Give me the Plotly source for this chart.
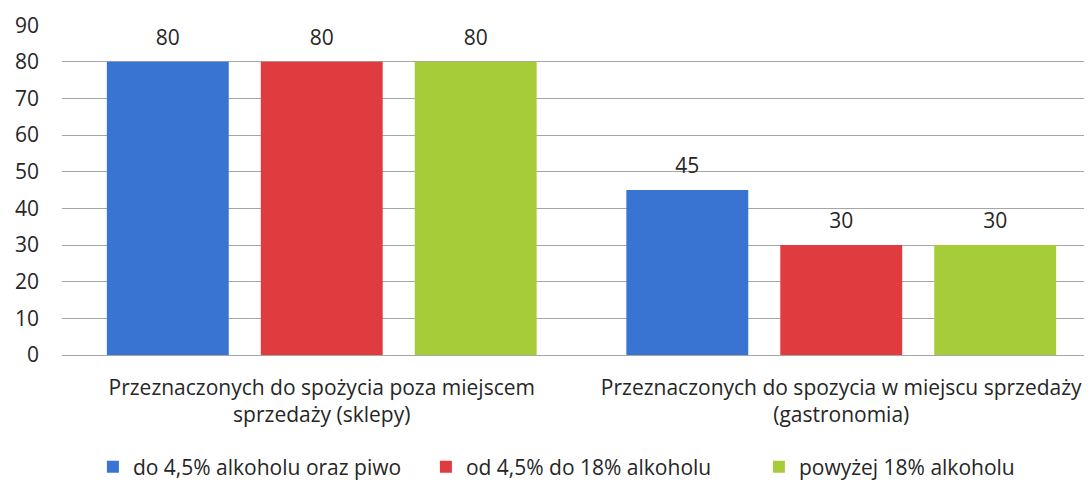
import plotly.graph_objects as go

categories = ["Przeznaczonych do spożycia poza miejscem<br>sprzedaży (sklepy)",
              "Przeznaczonych do spozycia w miejscu sprzedaży<br>(gastronomia)"]
series_names = ["do 4,5% alkoholu oraz piwo", "od 4,5% do 18% alkoholu", "powyżej 18% alkoholu"]
series_values = [[80, 45], [80, 30], [80, 30]]
colors = ["#3a74d2", "#e03c3f", "#a6cd39"]
y_ticks = [0, 10, 20, 30, 40, 50, 60, 70, 80, 90]

FONT = "Open Sans"
TXT = "#262626"
FS = 21

fig = go.Figure()
for name, vals, col in zip(series_names, series_values, colors):
    fig.add_trace(go.Bar(
        x=categories, y=vals, name=name, marker=dict(color=col, line=dict(width=0)),
        offsetgroup=name,
    ))
# value labels, placed with the same grouping as the bars
for name, vals in zip(series_names, series_values):
    fig.add_trace(go.Scatter(
        x=categories, y=vals, mode="markers+text", text=[str(v) for v in vals],
        textposition="top center", offsetgroup=name,
        marker=dict(size=17, opacity=0), cliponaxis=False,
        textfont=dict(family=FONT, size=FS, color=TXT), showlegend=False, hoverinfo="skip",
    ))

fig.update_layout(
    width=1084, height=476,
    margin=dict(l=54, r=0, t=17, b=129),
    barmode="group", bargap=0.111, bargroupgap=0.208,
    scattermode="group", scattergap=0.111,
    plot_bgcolor="white", paper_bgcolor="white",
    font=dict(family=FONT, size=FS, color=TXT),
    showlegend=True,
    legend=dict(orientation="h", x=0.030, xanchor="left", yref="container", y=0.0357,
                yanchor="middle", font=dict(family=FONT, size=FS, color=TXT),
                traceorder="normal", itemwidth=30, entrywidth=288),
)
fig.update_xaxes(range=[-0.5, 1.4827], showgrid=False, showline=False, ticks="",
                 tickfont=dict(family=FONT, size=FS, color=TXT), ticklabelstandoff=18)
fig.update_yaxes(range=[0, 90.05], tickvals=y_ticks, showgrid=True, gridcolor="#a6a6a6", gridwidth=1,
                 zeroline=True, zerolinecolor="#a6a6a6", zerolinewidth=1, showline=False,
                 ticks="", tickfont=dict(family=FONT, size=FS, color=TXT), ticklabelstandoff=22)

fig.write_html("out.html")
